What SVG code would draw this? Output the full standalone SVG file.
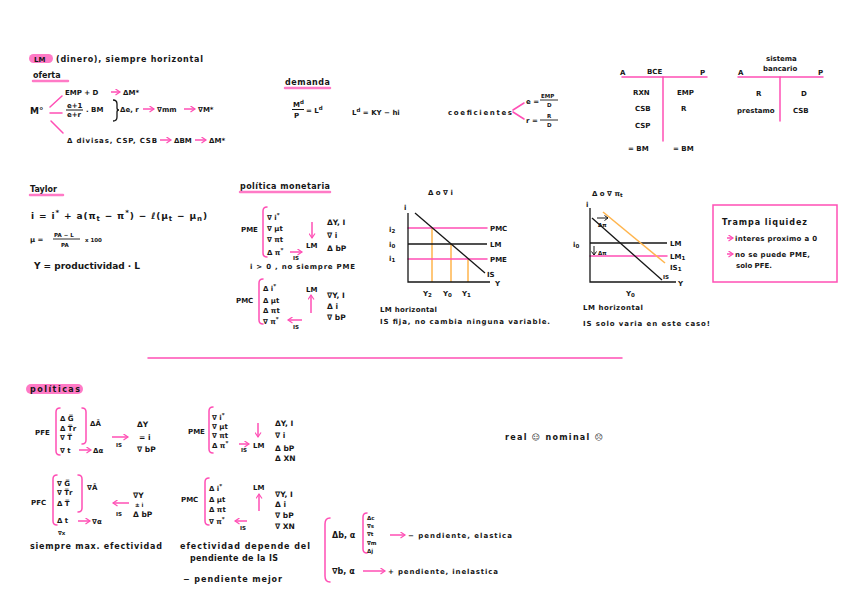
<svg xmlns="http://www.w3.org/2000/svg" width="848" height="599" viewBox="0 0 848 599">
<defs>
<style>
text{font-family:"DejaVu Sans","Liberation Sans",sans-serif;font-size:8px;font-weight:bold;fill:#161616}
.s{font-size:7px}
.m{font-size:7.5px}
.xs{font-size:5.5px}
.b{font-size:9px}
.pk{stroke:#ff4fb5;stroke-width:1.5;fill:none;stroke-linecap:round}
.hl{stroke:#ff7ac6;stroke-width:2.5;fill:none;stroke-linecap:round}
.bk{stroke:#161616;stroke-width:1.3;fill:none}
.or{stroke:#ffb54d;stroke-width:1.5;fill:none}
.pa{stroke:#ff4fb5;stroke-width:1.5;fill:none;marker-end:url(#ah)}
</style>
<marker id="ah" markerWidth="7" markerHeight="7" refX="5" refY="3.5" orient="auto" markerUnits="userSpaceOnUse"><path d="M0.5,0.5 L5,3.5 L0.5,6.5" fill="none" stroke="#ff4fb5" stroke-width="1.2"/></marker>
<marker id="bh" markerWidth="6" markerHeight="6" refX="4" refY="3" orient="auto" markerUnits="userSpaceOnUse"><path d="M0.5,0.5 L4,3 L0.5,5.5" fill="none" stroke="#161616" stroke-width="1"/></marker>
</defs>
<rect width="848" height="599" fill="#fff"/>

<g id="oferta">
<rect x="29" y="54" width="24" height="9" rx="4.5" fill="#ff7ac6"/>
<text x="34" y="62" class="s">LM</text>
<text x="56" y="62" textLength="147" lengthAdjust="spacing">(dinero), siempre horizontal</text>
<text x="33" y="78">oferta</text>
<line class="hl" x1="33" y1="81" x2="68" y2="81"/>
<text x="30" y="114" class="b">M°</text>
<text x="65" y="95" class="s">EMP + D</text>
<text x="123" y="95" class="s">ΔM*</text>
<text x="67" y="108" class="s">e+1</text>
<line x1="66" y1="110" x2="83" y2="110" stroke="#161616" stroke-width="1"/>
<text x="67" y="117" class="s">e+r</text>
<text x="86" y="112" class="s">. BM</text>
<path d="M113,100 Q117,100 117,104 L117,108 Q117,110 119,110 Q117,110 117,112 L117,117 Q117,121 113,121" class="bk" stroke-width="1"/>
<text x="120" y="112" class="s">Δe, r</text>
<text x="157" y="112" class="s">∇mm</text>
<text x="198" y="112" class="s">∇M*</text>
<text x="67" y="143" class="s" textLength="90" lengthAdjust="spacing">Δ divisas, CSP, CSB</text>
<text x="174" y="143" class="s">ΔBM</text>
<text x="209" y="143" class="s">ΔM*</text>
</g>

<g id="demanda">
<text x="285" y="85" textLength="45" lengthAdjust="spacing">demanda</text>
<line class="hl" x1="285" y1="88" x2="330" y2="88"/>
<text x="293" y="107" class="s">M<tspan dy="-3" class="xs">d</tspan></text>
<line x1="292" y1="109.5" x2="304" y2="109.5" stroke="#161616" stroke-width="1"/>
<text x="294" y="118" class="s">P</text>
<text x="306" y="113" class="s">= L<tspan dy="-3" class="xs">d</tspan></text>
<text x="352" y="115" class="s">L<tspan dy="-3" class="xs">d</tspan><tspan dy="3"> = KY − hi</tspan></text>
<text x="448" y="115" class="s" textLength="64" lengthAdjust="spacing">coeficientes</text>
<text x="526" y="104" class="s">e =</text>
<text x="541" y="98" class="xs">EMP</text>
<line x1="540" y1="100" x2="558" y2="100" stroke="#161616" stroke-width="0.9"/>
<text x="547" y="107" class="xs">D</text>
<text x="526" y="123" class="s">r =</text>
<text x="547" y="118" class="xs">R</text>
<line x1="540" y1="120" x2="558" y2="120" stroke="#161616" stroke-width="0.9"/>
<text x="547" y="127" class="xs">D</text>
</g>

<g id="bce">
<text x="620" y="75" class="s">A</text>
<text x="647" y="74" class="s">BCE</text>
<text x="700" y="75" class="s">P</text>
<line class="pk" x1="622" y1="77" x2="707" y2="77"/>
<line class="pk" x1="663" y1="77" x2="663" y2="141"/>
<text x="633" y="95" class="s">RXN</text>
<text x="677" y="95" class="s">EMP</text>
<text x="635" y="111" class="s">CSB</text>
<text x="681" y="111" class="s">R</text>
<text x="635" y="128" class="s">CSP</text>
<text x="628" y="151" class="s">= BM</text>
<text x="673" y="151" class="s">= BM</text>
</g>

<g id="sistema-bancario">
<text x="766" y="61" class="s">sistema</text>
<text x="763" y="71" class="s">bancario</text>
<text x="738" y="75" class="s">A</text>
<text x="818" y="75" class="s">P</text>
<line class="pk" x1="738" y1="77" x2="823" y2="77"/>
<line class="pk" x1="780" y1="77" x2="780" y2="121"/>
<text x="756" y="96" class="s">R</text>
<text x="801" y="96" class="s">D</text>
<text x="737" y="113" class="s">prestamo</text>
<text x="793" y="113" class="s">CSB</text>
</g>

<g id="taylor">
<text x="30" y="192">Taylor</text>
<line class="hl" x1="30" y1="195" x2="63" y2="195"/>
<text x="31" y="219" class="b" textLength="176" lengthAdjust="spacing">i = i<tspan dy="-4" class="s">*</tspan><tspan dy="4"> + a(π</tspan><tspan dy="2" class="s">t</tspan><tspan dy="-2"> − π</tspan><tspan dy="-4" class="s">*</tspan><tspan dy="4">) − ℓ(μ</tspan><tspan dy="2" class="s">t</tspan><tspan dy="-2"> − μ</tspan><tspan dy="2" class="s">n</tspan><tspan dy="-2">)</tspan></text>
<text x="30" y="242" class="s">μ =</text>
<text x="54" y="237" class="xs">PA − L</text>
<line x1="53" y1="239" x2="80" y2="239" stroke="#161616" stroke-width="0.9"/>
<text x="61" y="247" class="xs">PA</text>
<text x="85" y="242" class="xs">x 100</text>
<text x="34" y="269" class="b" textLength="106" lengthAdjust="spacing">Y = productividad · L</text>
</g>

<g id="politica-monetaria">
<text x="240" y="189" textLength="90" lengthAdjust="spacing">política monetaria</text>
<line class="hl" x1="240" y1="192" x2="330" y2="192"/>
<text x="241" y="232" class="s">PME</text>
<path class="pk" d="M267,207 Q263,207 263,211 L263,253 Q263,257 267,257"/>
<text x="267" y="220" class="s">∇ i<tspan dy="-3" class="xs">*</tspan></text>
<text x="267" y="231" class="s">∇ μt</text>
<text x="267" y="242" class="s">∇ πt</text>
<text x="267" y="255" class="s">Δ π<tspan dy="-3" class="xs">*</tspan></text>
<text x="293" y="260" class="xs">IS</text>
<text x="306" y="248" class="s">LM</text>
<text x="327" y="225" class="m">ΔY, I</text>
<text x="327" y="238" class="m">∇ i</text>
<text x="327" y="251" class="m">Δ bP</text>
<text x="250" y="269" class="s" textLength="105" lengthAdjust="spacing">i &gt; 0 , no siempre PME</text>
<text x="236" y="303" class="s">PMC</text>
<path class="pk" d="M263,279 Q259,279 259,283 L259,320 Q259,324 263,324"/>
<text x="263" y="291" class="s">Δ i<tspan dy="-3" class="xs">*</tspan></text>
<text x="263" y="303" class="s">Δ μt</text>
<text x="263" y="313" class="s">Δ πt</text>
<text x="263" y="324" class="s">∇ π<tspan dy="-3" class="xs">*</tspan></text>
<text x="293" y="329" class="xs">IS</text>
<text x="306" y="292" class="s">LM</text>
<text x="327" y="298" class="m">∇Y, I</text>
<text x="327" y="309" class="m">Δ i</text>
<text x="327" y="320" class="m">∇ bP</text>
</g>

<g id="grafico-i">
<text x="428" y="195" class="s">Δ o ∇ i</text>
<line class="or" x1="432" y1="228" x2="432" y2="282"/>
<line class="or" x1="451" y1="244" x2="451" y2="282"/>
<line class="or" x1="468" y1="259" x2="468" y2="282"/>
<line class="pk" x1="408" y1="228" x2="487" y2="228"/>
<line class="bk" x1="408" y1="244" x2="487" y2="244"/>
<line class="pk" x1="408" y1="259" x2="487" y2="259"/>
<line class="bk" x1="415" y1="213" x2="485" y2="273"/>
<path class="bk" d="M408,213 L408,282 L490,282"/>
<text x="404" y="210" class="s">i</text>
<text x="389" y="232" class="s">i<tspan dy="1" class="xs">2</tspan></text>
<text x="389" y="247" class="s">i<tspan dy="1" class="xs">0</tspan></text>
<text x="389" y="261" class="s">i<tspan dy="1" class="xs">1</tspan></text>
<text x="490" y="231" class="s">PMC</text>
<text x="490" y="247" class="s">LM</text>
<text x="490" y="262" class="s">PME</text>
<text x="487" y="277" class="s">IS</text>
<text x="495" y="286" class="s">Y</text>
<text x="423" y="296" class="s">Y<tspan dy="1" class="xs">2</tspan></text>
<text x="443" y="296" class="s">Y<tspan dy="1" class="xs">0</tspan></text>
<text x="462" y="296" class="s">Y<tspan dy="1" class="xs">1</tspan></text>
<text x="380" y="312" class="s" textLength="57" lengthAdjust="spacing">LM horizontal</text>
<text x="380" y="324" class="s" textLength="170" lengthAdjust="spacing">IS fija, no cambia ninguna variable.</text>
</g>

<g id="grafico-pi">
<text x="592" y="196" class="s">Δ o ∇ π<tspan dy="1" class="xs">t</tspan></text>
<line class="bk" x1="590" y1="243" x2="667" y2="243"/>
<line class="pk" x1="590" y1="256" x2="667" y2="256"/>
<line class="bk" x1="592" y1="218" x2="662" y2="280"/>
<line class="or" x1="603" y1="212" x2="665" y2="263"/>
<path class="bk" d="M590,208 L590,282 L676,282"/>
<text x="586" y="207" class="s">i</text>
<text x="573" y="247" class="s">i<tspan dy="1" class="xs">0</tspan></text>
<text x="670" y="246" class="s">LM</text>
<text x="670" y="259" class="s">LM<tspan dy="1" class="xs">1</tspan></text>
<text x="670" y="270" class="s">IS<tspan dy="1" class="xs">1</tspan></text>
<text x="663" y="279" class="xs">IS</text>
<text x="678" y="286" class="s">Y</text>
<text x="598" y="227" class="xs">Δπ</text>
<text x="598" y="255" class="xs">Δπ</text>
<text x="626" y="296" class="s">Y<tspan dy="1" class="xs">0</tspan></text>
<text x="583" y="310" class="s" textLength="60" lengthAdjust="spacing">LM horizontal</text>
<text x="583" y="326" class="s" textLength="127" lengthAdjust="spacing">IS solo varia en este caso!</text>
</g>

<g id="trampa-liquidez">
<rect x="713" y="205" width="124" height="77" fill="none" stroke="#ff4fb5" stroke-width="1.5"/>
<text x="722" y="225" textLength="85" lengthAdjust="spacing">Trampa liquidez</text>
<text x="735" y="241" class="s" textLength="82" lengthAdjust="spacing">interes proximo a 0</text>
<text x="735" y="257" class="s" textLength="75" lengthAdjust="spacing">no se puede PME,</text>
<text x="736" y="268" class="s">solo PFE.</text>
</g>

<line id="divisor" class="pk" x1="148" y1="358" x2="622" y2="358"/>

<g id="politicas">
<rect x="26" y="384" width="57" height="10" rx="5" fill="#ff7ac6"/>
<text x="30" y="392" textLength="50" lengthAdjust="spacing">políticas</text>
</g>

<g id="pfe">
<text x="35" y="435" class="s">PFE</text>
<path class="pk" d="M60,408 Q56,408 56,412 L56,451 Q56,455 60,455"/>
<path class="pk" d="M82,408 Q86,408 86,412 L86,440 Q86,444 82,444"/>
<text x="60" y="421" class="s">Δ G̅</text>
<text x="60" y="431" class="s">Δ T̅r</text>
<text x="60" y="440" class="s">∇ T̅</text>
<text x="60" y="453" class="s">∇ t</text>
<text x="93" y="453" class="s">Δα</text>
<text x="90" y="426" class="s">ΔĀ</text>
<text x="116" y="447" class="xs">IS</text>
<text x="137" y="427" class="m">ΔY</text>
<text x="139" y="440" class="m">= i</text>
<text x="137" y="452" class="m">∇ bP</text>
</g>

<g id="pme">
<text x="188" y="434" class="s">PME</text>
<path class="pk" d="M213,407 Q209,407 209,411 L209,449 Q209,453 213,453"/>
<text x="212" y="420" class="s">∇ i<tspan dy="-3" class="xs">*</tspan></text>
<text x="212" y="429" class="s">∇ μt</text>
<text x="212" y="438" class="s">∇ πt</text>
<text x="212" y="448" class="s">Δ π<tspan dy="-3" class="xs">*</tspan></text>
<text x="241" y="452" class="xs">IS</text>
<text x="253" y="448" class="s">LM</text>
<text x="275" y="426" class="m">ΔY, I</text>
<text x="275" y="438" class="m">∇ i</text>
<text x="275" y="451" class="m">Δ bP</text>
<text x="275" y="461" class="m">Δ XN</text>
</g>

<g id="pfc">
<text x="31" y="505" class="s">PFC</text>
<path class="pk" d="M57,475 Q53,475 53,479 L53,521 Q53,525 57,525"/>
<path class="pk" d="M78,475 Q82,475 82,479 L82,508 Q82,512 78,512"/>
<text x="57" y="486" class="s">∇ G̅</text>
<text x="57" y="495" class="s">∇ T̅r</text>
<text x="57" y="506" class="s">Δ T̅</text>
<text x="57" y="523" class="s">Δ t</text>
<text x="58" y="535" class="xs">∇x</text>
<text x="92" y="524" class="s">∇α</text>
<text x="87" y="490" class="s">∇Ā</text>
<text x="116" y="516" class="xs">IS</text>
<text x="133" y="498" class="m">∇Y</text>
<text x="135" y="507" class="xs">± i</text>
<text x="133" y="517" class="m">Δ bP</text>
<text x="30" y="549" textLength="132" lengthAdjust="spacing">siempre max. efectividad</text>
</g>

<g id="pmc">
<text x="181" y="502" class="s">PMC</text>
<path class="pk" d="M209,478 Q205,478 205,482 L205,521 Q205,525 209,525"/>
<text x="209" y="491" class="s">Δ i<tspan dy="-3" class="xs">*</tspan></text>
<text x="209" y="502" class="s">Δ μt</text>
<text x="209" y="512" class="s">Δ πt</text>
<text x="209" y="524" class="s">∇ π<tspan dy="-3" class="xs">*</tspan></text>
<text x="240" y="530" class="xs">IS</text>
<text x="253" y="490" class="s">LM</text>
<text x="275" y="497" class="m">∇Y, I</text>
<text x="275" y="507" class="m">Δ i</text>
<text x="275" y="518" class="m">∇ bP</text>
<text x="275" y="529" class="m">∇ XN</text>
<text x="180" y="549" textLength="130" lengthAdjust="spacing">efectividad depende del</text>
<text x="190" y="561" textLength="88" lengthAdjust="spacing">pendiente de la IS</text>
<text x="183" y="582" textLength="99" lengthAdjust="spacing">− pendiente mejor</text>
</g>

<g id="elasticidad">
<path class="pk" d="M330,518 Q325,518 325,524 L325,576 Q325,582 330,582"/>
<text x="332" y="538">Δb, α</text>
<path class="pk" d="M367,513 Q363,513 363,517 L363,549 Q363,553 367,553"/>
<text x="367" y="520" class="xs">Δc</text>
<text x="367" y="528" class="xs">∇s</text>
<text x="367" y="536" class="xs">∇t</text>
<text x="367" y="545" class="xs">∇m</text>
<text x="367" y="553" class="xs">Δj</text>
<text x="408" y="538" class="s" textLength="104" lengthAdjust="spacing">− pendiente, elastica</text>
<text x="332" y="574">∇b, α</text>
<text x="388" y="574" class="s" textLength="110" lengthAdjust="spacing">+ pendiente, inelastica</text>
</g>

<g id="real-nominal">
<text x="505" y="440" textLength="98" lengthAdjust="spacing">real ☺  nominal ☹</text>
</g>

<g id="connectors">
<line class="pk" x1="50" y1="107" x2="62" y2="96"/>
<line class="pk" x1="50" y1="113" x2="62" y2="113"/>
<line class="pk" x1="51" y1="121" x2="63" y2="133"/>
<line class="pa" x1="111" y1="92" x2="120" y2="92"/>
<line class="pa" x1="143" y1="109" x2="154" y2="109"/>
<line class="pa" x1="184" y1="109" x2="195" y2="109"/>
<line class="pa" x1="160" y1="140" x2="171" y2="140"/>
<line class="pa" x1="195" y1="140" x2="206" y2="140"/>
<line class="pk" x1="513" y1="110" x2="524" y2="103"/>
<line class="pk" x1="513" y1="112" x2="524" y2="119"/>
<line class="pa" x1="290" y1="252" x2="302" y2="252"/>
<line class="pa" x1="312" y1="222" x2="312" y2="238"/>
<line class="pa" x1="302" y1="320" x2="288" y2="320"/>
<line class="pa" x1="311" y1="313" x2="311" y2="295"/>
<line x1="597" y1="218" x2="608" y2="218" stroke="#161616" stroke-width="1" marker-end="url(#bh)"/>
<line x1="594" y1="246" x2="594" y2="255" stroke="#161616" stroke-width="1" marker-end="url(#bh)"/>
<line class="pa" x1="727" y1="238" x2="733" y2="238"/>
<line class="pa" x1="727" y1="254" x2="733" y2="254"/>
<line class="pa" x1="79" y1="450" x2="91" y2="450"/>
<line class="pa" x1="112" y1="437" x2="128" y2="437"/>
<line class="pa" x1="239" y1="444" x2="249" y2="444"/>
<line class="pa" x1="258" y1="423" x2="258" y2="437"/>
<line class="pa" x1="78" y1="521" x2="90" y2="521"/>
<line class="pa" x1="129" y1="503" x2="113" y2="503"/>
<line class="pa" x1="247" y1="521" x2="235" y2="521"/>
<line class="pa" x1="259" y1="511" x2="259" y2="494"/>
<line class="pa" x1="390" y1="535" x2="405" y2="535"/>
<line class="pa" x1="363" y1="571" x2="385" y2="571"/>
</g>
</svg>
